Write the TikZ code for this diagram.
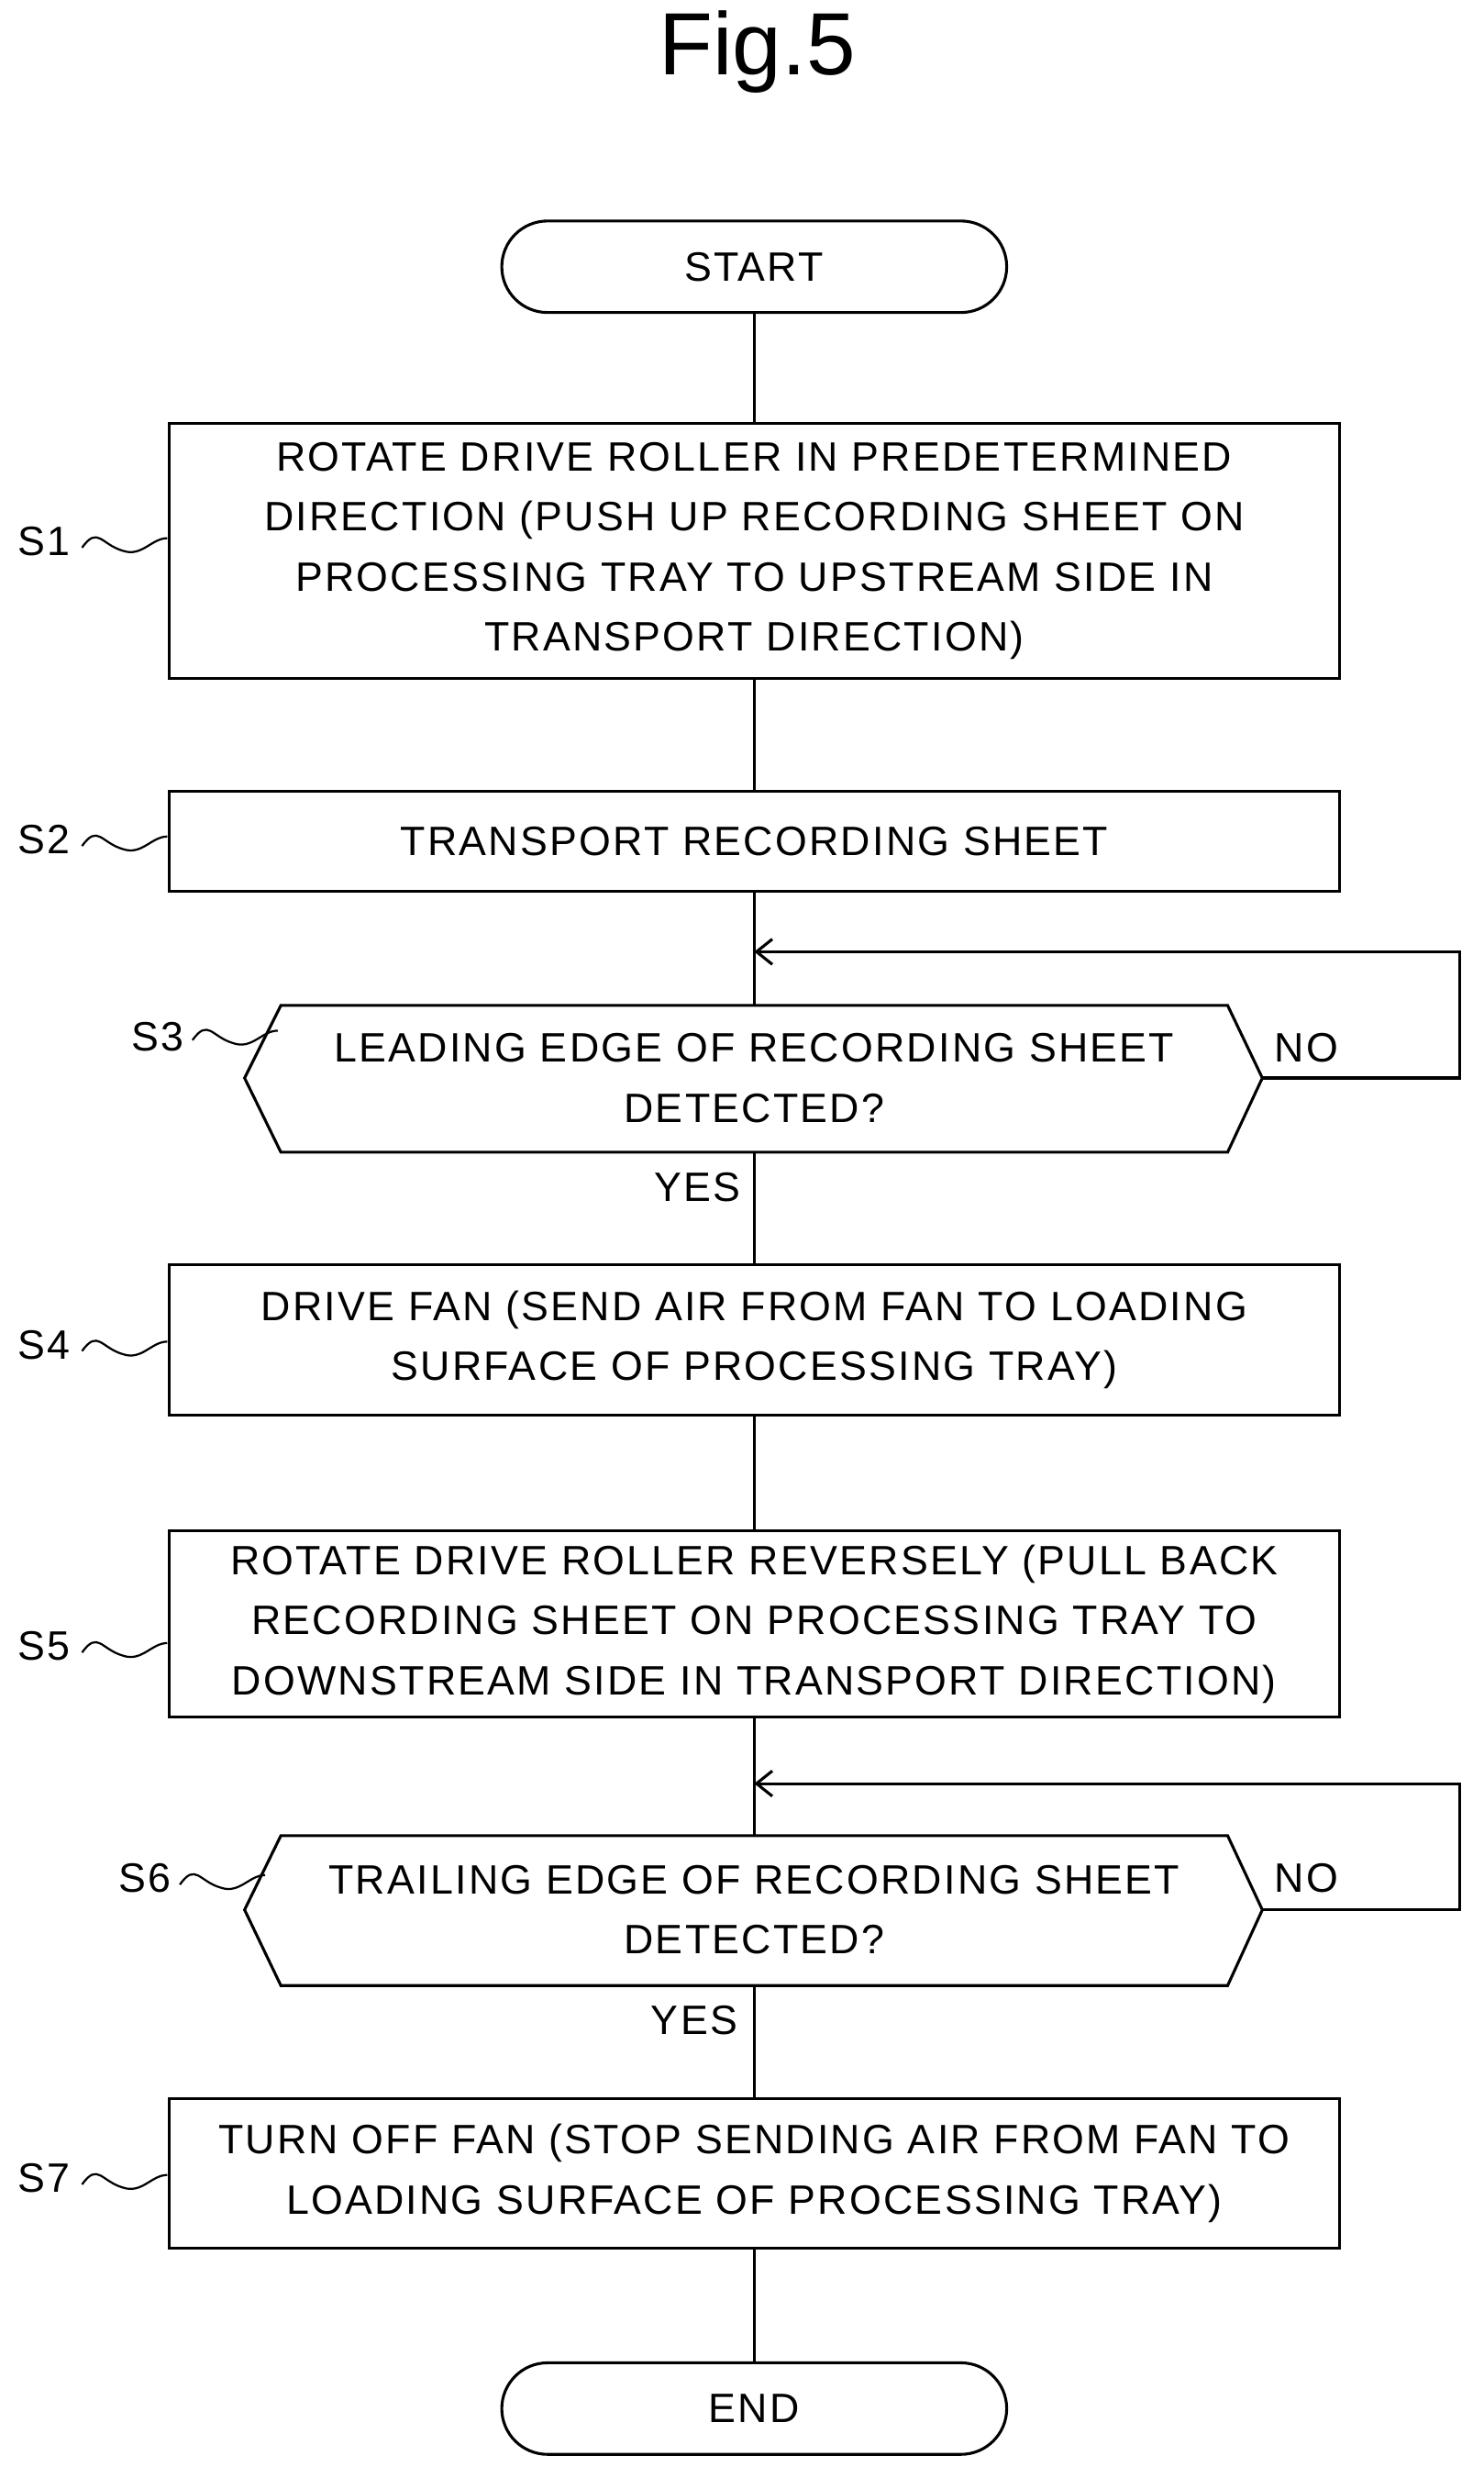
\documentclass[tikz,border=0pt]{standalone}
\usepackage{fontspec}
\setmainfont[LetterSpace=5]{Liberation Sans}
\usetikzlibrary{arrows.meta}
\newcommand\wavy[2]{\draw[line width=1.3pt] (#1,#2) .. controls +(10,-14) and +(-14,-4) .. +(26,2) .. controls +(12,4) and +(-10,0) .. +(54,-6);}
\begin{document}
\begin{tikzpicture}[x=1pt,y=-1pt,line width=1.8pt,
 box/.style={draw,rectangle,minimum width=742pt,align=center,font=\fontsize{26}{38}\selectfont,inner sep=0pt},
 lab/.style={font=\fontsize{26}{30}\selectfont,inner sep=0pt},
 txt/.style={font=\fontsize{26}{38}\selectfont,align=center,inner sep=0pt},
 arr/.style={-{Straight Barb[length=10pt,width=16pt]}}]
\useasboundingbox (0,0) rectangle (940,1570);
\node[font=\fontsize{56}{60}\selectfont\addfontfeatures{LetterSpace=0}] (title) at (480,33) {Fig.5};
\node[draw,rounded corners=29pt,minimum width=320pt,minimum height=58pt,font=\fontsize{26}{38}\selectfont] (start) at (478,169) {START};
\node[box,minimum height=162pt] (s1) at (478,349) {ROTATE DRIVE ROLLER IN PREDETERMINED\\DIRECTION (PUSH UP RECORDING SHEET ON\\PROCESSING TRAY TO UPSTREAM SIDE IN\\TRANSPORT DIRECTION)};
\node[box,minimum height=63pt] (s2) at (478,533) {TRANSPORT RECORDING SHEET};
\node[txt] (s3) at (478,683) {LEADING EDGE OF RECORDING SHEET\\DETECTED?};
\draw (155,683) -- (178,637) -- (778,637) -- (800,683) -- (778,730) -- (178,730) -- cycle;
\node[box,minimum height=95pt] (s4) at (478,849) {DRIVE FAN (SEND AIR FROM FAN TO LOADING\\SURFACE OF PROCESSING TRAY)};
\node[box,minimum height=118pt] (s5) at (478,1029) {ROTATE DRIVE ROLLER REVERSELY (PULL BACK\\RECORDING SHEET ON PROCESSING TRAY TO\\DOWNSTREAM SIDE IN TRANSPORT DIRECTION)};
\node[txt] (s6) at (478,1210) {TRAILING EDGE OF RECORDING SHEET\\DETECTED?};
\draw (155,1210) -- (178,1163) -- (778,1163) -- (800,1210) -- (778,1258) -- (178,1258) -- cycle;
\node[box,minimum height=95pt] (s7) at (478,1377) {TURN OFF FAN (STOP SENDING AIR FROM FAN TO\\LOADING SURFACE OF PROCESSING TRAY)};
\node[draw,rounded corners=29pt,minimum width=320pt,minimum height=58pt,font=\fontsize{26}{38}\selectfont] (end) at (478,1526) {END};
\coordinate (t3) at (478,637); \coordinate (b3) at (478,730); \coordinate (r3) at (800,683);
\coordinate (t6) at (478,1163); \coordinate (b6) at (478,1258); \coordinate (r6) at (800,1210);
\coordinate (j3) at (478,603); \coordinate (j6) at (478,1130);
\draw (start) -- (s1); \draw (s1) -- (s2); \draw (s2) -- (t3); \draw (b3) -- (s4);
\draw (s4) -- (s5); \draw (s5) -- (t6); \draw (b6) -- (s7); \draw (s7) -- (end);
\draw[arr] (r3) -- (925,683) -- (925,603) -- (j3);
\draw[arr] (r6) -- (925,1210) -- (925,1130) -- (j6);
\node[lab] (no3) at (828,664) {NO}; \node[lab] (yes3) at (442,752) {YES};
\node[lab] (no6) at (828,1190) {NO}; \node[lab] (yes6) at (440,1280) {YES};
\node[lab] (l1) at (28,343) {S1}; \wavy{52}{347}
\node[lab] (l2) at (28,532) {S2}; \wavy{52}{536}
\node[lab] (l3) at (100,657) {S3}; \wavy{122}{659}
\node[lab] (l4) at (28,852) {S4}; \wavy{52}{856}
\node[lab] (l5) at (28,1043) {S5}; \wavy{52}{1047}
\node[lab] (l6) at (92,1190) {S6}; \wavy{114}{1194}
\node[lab] (l7) at (28,1380) {S7}; \wavy{52}{1384}
\end{tikzpicture}
\end{document}
